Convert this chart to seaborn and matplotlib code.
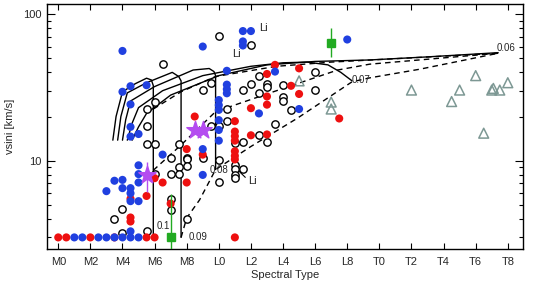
import numpy as np
import pandas as pd
import matplotlib
matplotlib.use("Agg")
import matplotlib.pyplot as plt
import seaborn as sns

# spectral type as number: M0=0, L0=10, T0=20
blue_x = [4.0, 9.0, 4.0, 4.5, 5.5, 4.5, 10.0, 10.0, 10.0, 4.5, 5.0, 4.5, 9.0, 6.5, 10.5, 13.5,
          11.5, 12.0, 11.5, 11.5, 18.0, 10.5, 10.5, 10.5, 12.5, 15.0, 10.0, 10.0, 10.0, 9.0,
          5.0, 4.0, 3.5, 3.0, 4.0, 4.5, 4.5, 5.0, 5.0, 4.5, 5.0, 4.5,
          1.0, 1.5, 2.5, 3.0, 3.5, 4.0, 4.5, 5.0]
blue_v = [56, 60, 29.5, 32.2, 32.7, 24.2, 25.9, 23.9, 22.2, 17.0, 15.2, 14.6, 12.0, 11.0, 41, 40.5,
          76.5, 76.5, 65, 61, 67, 33, 30.7, 28.8, 21.0, 22.5, 18.9, 16.2, 13.7, 8.0,
          8.1, 7.4, 7.3, 6.2, 6.5, 6.5, 6.0, 7.1, 5.3, 5.3, 9.3, 3.3,
          3, 3, 3, 3, 3, 3, 3, 3]

red_x = [8.5, 13.5, 13.0, 15.0, 14.5, 15.0, 13.0, 13.0, 12.0, 17.5, 11.0, 11.0, 11.0, 11.0,
         12.0, 13.0, 11.0, 11.0, 11.0, 8.0, 9.0, 6.0, 6.5, 8.0, 5.5, 4.5, 4.5, 4.5, 7.0, 11.0,
         0.0, 0.5, 2.0, 3.5, 5.5, 6.0]
red_v = [20, 45, 39, 42.6, 32.4, 28.5, 27.4, 24.1, 22.8, 19.4, 18.6, 15.8, 14.7, 13.7,
         14.9, 15.1, 11.6, 10.8, 10.2, 12.0, 11.0, 7.6, 7.1, 7.1, 5.75, 5.5, 4.1, 3.85, 5.1, 3.0,
         3, 3, 3, 3, 3, 3]

open_x = [10.0, 6.5, 12.0, 9.0, 9.5, 5.5, 6.0, 5.5, 9.5, 5.5, 6.0, 7.5, 8.0, 7.0, 12.5, 11.5,
          12.0, 13.0, 13.0, 14.0, 12.5, 14.0, 14.0, 14.5, 10.5, 16.0, 16.0, 10.5, 10.0, 11.5,
          12.5, 13.5, 11.0, 13.0, 8.0, 8.0, 9.0, 10.0, 11.0, 11.0, 11.5, 11.0, 11.0, 10.0,
          7.5, 6.0, 7.0, 7.5, 4.0, 3.5, 8.0, 7.0, 7.0, 5.5, 4.0]
open_v = [71, 45.4, 61, 30.3, 34, 22.6, 25.2, 17.3, 17.3, 13.0, 13.0, 13.0, 10.4, 10.5, 38, 30.3,
          33.3, 33.3, 31.6, 32.6, 29, 27.1, 25.7, 22.2, 22.5, 40.3, 30.3, 18.6, 17.3, 13.5,
          14.9, 17.7, 13.1, 13.4, 10.2, 9.2, 10.5, 10.1, 9.4, 8.8, 8.8, 8.0, 7.6, 7.2,
          9.1, 8.1, 8.1, 8.1, 4.7, 4.0, 4.0, 5.5, 4.6, 3.3, 3.2]

tri_x = [15.0, 17.0, 17.0, 22.0, 24.5, 25.0, 26.0, 26.5, 27.0, 27.1, 27.5, 28.0]
tri_v = [35, 25.1, 22.5, 30.3, 25.3, 30.3, 38, 15.4, 30.3, 31.1, 30.3, 34]

star_x = [5.5, 8.5, 9.0]
star_v = [8.0, 16.2, 16.2]
star_lo = [1.85, 0.6, 0.6]
star_hi = [1.85, 0.6, 0.6]

sq_x = [17.0, 7.0]
sq_v = [63.7, 3.0]
sq_lo = [12.8, 1.0]
sq_hi = [16.6, 2.9]

# mass tracks (solid) and isochrones (dashed)
tracks = {
    "0.1":  ([3.4, 3.6, 4.0, 4.8, 5.5, 5.8, 5.92, 5.92],
             [13.8, 20, 29.5, 33.5, 36.5, 35.5, 32.5, 3.05]),
    "0.09": ([3.7, 3.9, 4.3, 5.5, 7.1, 7.5, 7.65, 7.65],
             [13.8, 20, 29, 34, 40, 37.5, 35, 3.0]),
    "0.08": ([4.0, 4.2, 4.5, 6.0, 8.4, 9.4, 9.7, 9.8, 9.8],
             [13.8, 19, 25.5, 32, 41.5, 42.5, 40.5, 38, 8.7]),
    "0.07": ([4.3, 4.6, 5.0, 6.5, 9.0, 12.0, 14.0, 15.5, 16.8, 17.6, 18.3],
             [13.8, 18, 23, 30, 38, 44, 46.5, 47, 45, 40, 35]),
    "0.06": ([4.6, 5.0, 5.5, 7.0, 10.0, 13.0, 16.0, 19.4, 23.0, 27.4],
             [13.8, 17, 21, 28, 38, 45, 47.5, 48.6, 51, 54.5]),
}
isochrones = [
    ([7.65, 8.0, 8.8, 9.8, 12.0, 14.9, 18.3, 19.4, 22.5, 27.4],
     [3.0, 4.07, 5.4, 8.7, 12.5, 19.5, 34.5, 36.7, 42, 54]),
    ([5.92, 7.65, 9.8, 13.2, 17.4, 19.4, 27.4],
     [8.6, 12.8, 21.6, 29, 41.5, 45.5, 54]),
    ([5.92, 7.65, 9.8, 13.6, 17.0, 27.4],
     [22.5, 29.5, 37.5, 44, 47, 54]),
]
mass_labels = ["0.1", "0.09", "0.08", "0.07", "0.06"]
mass_lab_x = [6.1, 8.1, 9.4, 18.3, 27.3]
mass_lab_y = [3.6, 3.0, 8.6, 35.5, 58.6]

xtick_pos = list(range(0, 29, 2))
xtick_lab = ["M0", "M2", "M4", "M6", "M8", "L0", "L2", "L4", "L6", "L8",
             "T0", "T2", "T4", "T6", "T8"]

sns.set_style("ticks")
plt.rcParams['font.family'] = ['Liberation Sans', 'DejaVu Sans']

fig = plt.figure(figsize=(5.38, 2.87), dpi=100)
ax = fig.add_axes([0.0868, 0.1341, 0.8848, 0.852])

for name, (tx, ty) in tracks.items():
    ax.plot(tx, ty, color='black', lw=1.0, zorder=2)
for ix, iy in isochrones:
    ax.plot(ix, iy, color='black', lw=1.0, ls=(0, (4, 3)), zorder=2)

sns.scatterplot(x=open_x, y=open_v, ax=ax, marker='o', s=28, facecolor='white',
                edgecolor='black', linewidth=1.0, zorder=3)
sns.scatterplot(x=red_x, y=red_v, ax=ax, marker='o', s=34, color='#ee1010',
                edgecolor='none', zorder=4)
sns.scatterplot(x=blue_x, y=blue_v, ax=ax, marker='o', s=34, color='#2040e0',
                edgecolor='none', zorder=5)
sns.scatterplot(x=tri_x, y=tri_v, ax=ax, marker='^', s=50, facecolor='none',
                edgecolor='#7d9894', linewidth=1.1, zorder=3)

ax.errorbar(sq_x, sq_v, yerr=[sq_lo, sq_hi], fmt='s', color='#22aa22', ms=6,
            elinewidth=1.0, capsize=0, zorder=6)
ax.errorbar(star_x, star_v, yerr=[star_lo, star_hi], fmt='none', ecolor='#b44cf0',
            elinewidth=1.0, capsize=0, zorder=6)
sns.scatterplot(x=star_x, y=star_v, ax=ax, marker='*', s=170, color='#b44cf0',
                edgecolor='#b44cf0', zorder=7)

for lab, lx, ly in zip(mass_labels, mass_lab_x, mass_lab_y):
    ax.text(lx, ly, lab, fontsize=7, va='center', ha='left', zorder=8)
ax.text(12.5, 80, "Li", fontsize=8, va='center', ha='left')
ax.text(10.8, 53, "Li", fontsize=8, va='center', ha='left')
ax.text(11.8, 7.3, "Li", fontsize=8, va='center', ha='left')
ax.plot([11.25, 11.65], [8.5, 7.7], color='black', lw=0.8)

ax.set_yscale('log')
ax.set_xlim(-0.72, 28.93)
ax.set_ylim(2.52, 117)
ax.set_xticks(xtick_pos)
ax.set_xticklabels(xtick_lab)
ax.set_yticks([10, 100])
ax.set_yticklabels(["10", "100"])
ax.set_yticks([3, 4, 5, 6, 7, 8, 9, 20, 30, 40, 50, 60, 70, 80, 90], minor=True)
ax.yaxis.set_minor_formatter(matplotlib.ticker.NullFormatter())
ax.tick_params(axis='both', which='both', direction='in', top=True, right=True,
               labelsize=8, width=0.8, color='black')
ax.tick_params(axis='y', which='major', length=6)
ax.tick_params(axis='y', which='minor', length=3)
ax.tick_params(axis='x', which='major', length=4, pad=6)
for sp in ax.spines.values():
    sp.set_linewidth(1.0)
    sp.set_color('black')
ax.set_xlabel("Spectral Type", fontsize=8, labelpad=2)
ax.set_ylabel("vsini [km/s]", fontsize=8, labelpad=6)

fig.savefig("out.png", dpi=100)
